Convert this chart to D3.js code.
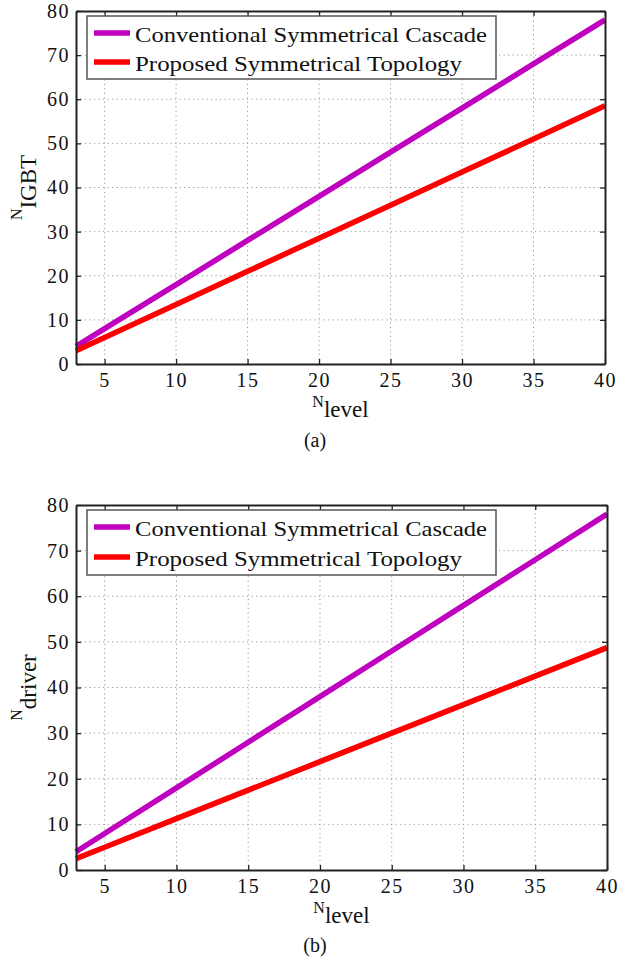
<!DOCTYPE html>
<html>
<head>
<meta charset="utf-8">
<script src="https://cdn.jsdelivr.net/npm/d3@7"></script>
<style>
  body { margin: 0; background: #fff; }
  .grid line { stroke: #999; stroke-width: 1; stroke-dasharray: 1.2,3.3; }
  .axis path, .axis line { stroke: #222; }
</style>
</head>
<body>
<svg id="fig" width="618" height="963"></svg>
<script>
// number of levels (x values read at tick positions)
var levels = [3, 5, 10, 15, 20, 25, 30, 35, 40];
// panel (a): number of IGBTs
var igbtConventional = [4, 8, 18, 28, 38, 48, 58, 68, 78];
var igbtProposed = [3, 6, 13.5, 21, 28.5, 36, 43.5, 51, 58.5];
// panel (b): number of drivers
var driverConventional = [4, 8, 18, 28, 38, 48, 58, 68, 78];
var driverProposed = [2.5, 5, 11.25, 17.5, 23.75, 30, 36.25, 42.5, 48.75];

var xTicks = [5, 10, 15, 20, 25, 30, 35, 40];
var yTicks = [0, 10, 20, 30, 40, 50, 60, 70, 80];
var seriesNames = ['Conventional Symmetrical Cascade', 'Proposed Symmetrical Topology'];
var seriesColors = ['#bf00bf', '#ff0000'];

var serif = '"Liberation Serif", "Times New Roman", "DejaVu Serif", serif';
var svg = d3.select('#fig');

function panel(opts) {
  var x = d3.scaleLinear().domain([3, 40]).range([opts.left, opts.right]);
  var y = d3.scaleLinear().domain([0, 80]).range([opts.bottom, opts.top]);
  var g = svg.append('g');

  // dotted grid
  var grid = g.append('g').attr('class', 'grid');
  grid.selectAll('.gx')
      .data(xTicks.filter(function(d) { return d < 40; })).enter()
    .append('line')
      .attr('x1', x).attr('x2', x)
      .attr('y1', y(0)).attr('y2', y(80));
  grid.selectAll('.gy')
      .data(yTicks.filter(function(d) { return d > 0 && d < 80; })).enter()
    .append('line')
      .attr('x1', x(3)).attr('x2', x(40))
      .attr('y1', y).attr('y2', y);

  // series lines
  var line = d3.line()
      .x(function(d) { return x(d[0]); })
      .y(function(d) { return y(d[1]); });
  opts.series.forEach(function(s, i) {
    g.append('path')
        .datum(levels.map(function(l, j) { return [l, s[j]]; }))
        .attr('d', line)
        .attr('fill', 'none')
        .attr('stroke', seriesColors[i])
        .attr('stroke-width', 5.5);
  });

  // axes, ticks inside on all four sides
  g.append('g').attr('class', 'axis')
      .attr('transform', 'translate(0,' + opts.bottom + ')')
      .call(d3.axisBottom(x).tickValues(xTicks).tickSizeInner(-5).tickSizeOuter(0).tickPadding(9));
  g.append('g').attr('class', 'axis')
      .attr('transform', 'translate(' + opts.left + ',0)')
      .call(d3.axisLeft(y).tickValues(yTicks).tickSizeInner(-5).tickSizeOuter(0).tickPadding(6));
  g.append('g').attr('class', 'axis')
      .attr('transform', 'translate(0,' + opts.top + ')')
      .call(d3.axisTop(x).tickValues(xTicks).tickSizeInner(-5).tickSizeOuter(0).tickFormat(''));
  g.append('g').attr('class', 'axis')
      .attr('transform', 'translate(' + opts.right + ',0)')
      .call(d3.axisRight(y).tickValues(yTicks).tickSizeInner(-5).tickSizeOuter(0).tickFormat(''));
  g.selectAll('.axis').attr('font-family', null).attr('font-size', null);
  g.selectAll('.axis path').attr('stroke-width', 2);
  g.selectAll('.axis .tick line').attr('stroke-width', 1.3);
  g.selectAll('.axis text')
      .style('font-family', serif)
      .style('font-size', '20px')
      .style('letter-spacing', '1.5px')
      .attr('fill', '#111');

  // legend
  var lg = g.append('g');
  lg.append('rect')
      .attr('x', opts.left + 11).attr('y', opts.top + 5)
      .attr('width', 409).attr('height', opts.legendH)
      .attr('fill', '#fff').attr('stroke', '#555').attr('stroke-width', 1.5);
  seriesNames.forEach(function(name, i) {
    var ly = opts.top + 22 + i * opts.legendStep;
    lg.append('line')
        .attr('x1', opts.left + 18).attr('x2', opts.left + 54)
        .attr('y1', ly).attr('y2', ly)
        .attr('stroke', seriesColors[i]).attr('stroke-width', 5.5);
    lg.append('text')
        .attr('x', opts.left + 59).attr('y', ly + 9)
        .attr('textLength', i === 0 ? 352 : 327)
        .attr('lengthAdjust', 'spacingAndGlyphs')
        .style('font-family', serif)
        .style('font-size', '22px')
        .attr('fill', '#111')
        .text(name);
  });

  // y label with subscript
  var cy = (opts.top + opts.bottom) / 2;
  var yl = g.append('text')
      .attr('transform', 'translate(22,' + cy + ') rotate(-90)')
      .attr('text-anchor', 'middle')
      .style('font-family', serif)
      .attr('fill', '#111');
  yl.append('tspan').style('font-size', '16px').text('N');
  yl.append('tspan').style('font-size', '23px').attr('dy', 14).text(opts.ySub);

  // x label with subscript
  var cx = (opts.left + opts.right) / 2;
  var xl = g.append('text')
      .attr('x', cx).attr('y', opts.bottom + 43)
      .attr('text-anchor', 'middle')
      .style('font-family', serif)
      .attr('fill', '#111');
  xl.append('tspan').style('font-size', '16px').text('N');
  xl.append('tspan').style('font-size', '23px').attr('dy', 10).text('level');

  // caption
  g.append('text')
      .attr('x', 315).attr('y', opts.captionY)
      .attr('text-anchor', 'middle')
      .style('font-family', serif)
      .style('font-size', '20px')
      .attr('fill', '#111')
      .text(opts.caption);
}

panel({
  left: 76, right: 605, top: 11, bottom: 364,
  series: [igbtConventional, igbtProposed],
  ySub: 'IGBT', caption: '(a)', captionY: 447,
  legendH: 63, legendStep: 29
});
panel({
  left: 76, right: 607, top: 505, bottom: 870,
  series: [driverConventional, driverProposed],
  ySub: 'driver', caption: '(b)', captionY: 952,
  legendH: 65, legendStep: 30
});
</script>
</body>
</html>
